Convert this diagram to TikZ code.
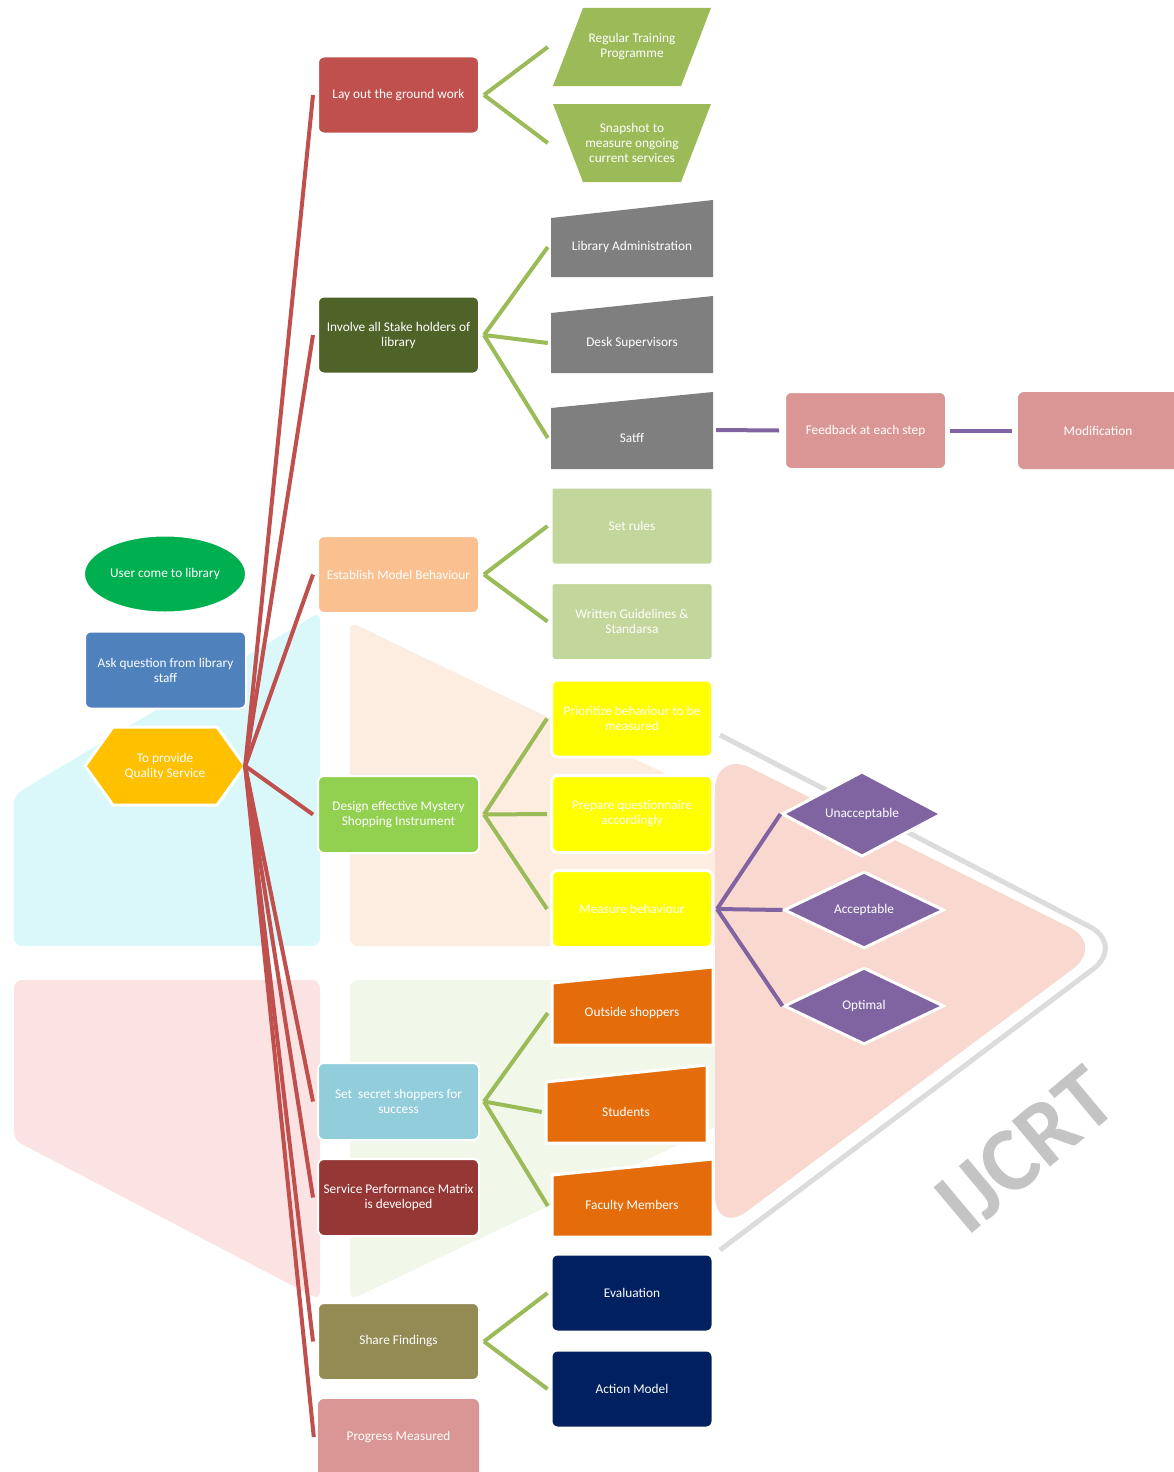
\documentclass[tikz,border=0pt]{standalone}
\usepackage{fontspec}
\setmainfont{Carlito}
\usetikzlibrary{shapes.geometric,calc}
\definecolor{cRed}{HTML}{C0504D}
\definecolor{cInv}{HTML}{4F6228}
\definecolor{cEst}{HTML}{FAC090}
\definecolor{cDes}{HTML}{92D050}
\definecolor{cSet}{HTML}{92CDDC}
\definecolor{cSrv}{HTML}{953735}
\definecolor{cShr}{HTML}{948A54}
\definecolor{cPink}{HTML}{D99694}
\definecolor{cG}{HTML}{9BBB59}
\definecolor{cGray}{HTML}{7F7F7F}
\definecolor{cLG}{HTML}{C3D69B}
\definecolor{cYel}{HTML}{FFFF00}
\definecolor{cPur}{HTML}{8064A2}
\definecolor{cOra}{HTML}{E46C0A}
\definecolor{cNav}{HTML}{002060}
\definecolor{cEll}{HTML}{00B050}
\definecolor{cAsk}{HTML}{4F81BD}
\definecolor{cHex}{HTML}{FFC000}
\definecolor{wCyan}{HTML}{DAF8FA}
\definecolor{wPeach}{HTML}{FCEDE0}
\definecolor{wPink}{HTML}{FBE3E3}
\definecolor{wGreen}{HTML}{F1F8EA}
\definecolor{wTri}{HTML}{F9D8D0}
\definecolor{wGrey}{HTML}{C4C4C4}
\begin{document}
\begin{tikzpicture}[x=1pt,y=-1pt,
  txt/.style={text=white, font=\fontsize{13.3}{15}\selectfont, align=center, inner sep=0pt},
  box/.style={txt, rectangle, rounded corners=6pt, minimum width=161pt, minimum height=77pt, draw=white, line width=2pt},
  lbl/.style={txt, minimum width=162pt, minimum height=77pt},
  gline/.style={draw=cG, line width=4pt},
  pline/.style={draw=cPur, line width=4pt},
  rline/.style={draw=cRed, line width=4pt},
  dia/.style={txt, diamond, fill=cPur, draw=white, line width=3pt, minimum width=160pt, minimum height=77pt}]
\clip (0,0) rectangle (1174,1472);
\fill[white] (0,0) rectangle (1174,1472);

% faint watermark
\fill[wCyan, rounded corners=8pt] (14,795) -- (320,612) -- (320,946) -- (14,946) -- cycle;
\fill[wPeach, rounded corners=8pt] (350,622) -- (720,800) -- (720,946) -- (350,946) -- cycle;
\fill[wPink, rounded corners=8pt] (14,980) -- (320,980) -- (320,1300) -- (14,1140) -- cycle;
\fill[wGreen, rounded corners=8pt] (350,980) -- (720,980) -- (720,1125) -- (350,1300) -- cycle;
\draw[wGrey!60, line width=5pt, rounded corners=40pt] (720,735) -- (1125,945) -- (720,1250);
\fill[wTri, rounded corners=40pt] (715,750) -- (1105,945) -- (715,1235) -- cycle;
\node[text=wGrey, font=\bfseries\fontsize{92}{92}\selectfont\rmfamily, rotate=40, inner sep=0pt] (wm) at (1025,1150) {IJCRT};

% left column
\node[txt, ellipse, fill=cEll, draw=white, line width=2pt, minimum width=162pt, minimum height=77pt] (user) at (165,574) {User come to library};
\node[box, fill=cAsk] (ask) at (165.5,670) {Ask question from library\\staff};
\filldraw[fill=cHex, draw=white, line width=3pt] (85,766) -- (113,727) -- (217,727) -- (245,766) -- (217,805) -- (113,805) -- cycle;
\node[txt, minimum width=160pt, minimum height=78pt] (hex) at (165,766) {To provide\\Quality Service};

% main column
\node[box, fill=cRed] (lay) at (398.5,95) {Lay out the ground work};
\node[box, fill=cInv] (inv) at (398.5,335) {Involve all Stake holders of\\library};
\node[box, fill=cEst] (est) at (398.5,574.5) {Establish Model Behaviour};
\node[box, fill=cDes] (des) at (398.5,814.5) {Design effective Mystery\\Shopping Instrument};
\node[box, fill=cSet] (set) at (398.5,1101.5) {Set\ \ secret shoppers for\\success};
\node[box, fill=cSrv] (srv) at (398.5,1197.5) {Service Performance Matrix\\is developed};
\node[box, fill=cShr] (shr) at (398.5,1341.5) {Share Findings};
\fill[cPink, rounded corners=6pt] (318,1399) rectangle (479,1495);
\node[lbl, minimum width=161pt] (prg) at (398.5,1437) {Progress Measured};

% red connectors
\foreach \n in {lay,inv,est,des,set,srv,shr,prg}
  \draw[rline] (hex.east) -- ($(\n.west)+(-4,0)$);

% layout children
\fill[cG] (583,8) -- (711,8) -- (681,86) -- (553,86) -- cycle;
\node[lbl] (rtp) at (632,47) {Regular Training\\Programme};
\fill[cG] (553,104) -- (711,104) -- (681,182) -- (583,182) -- cycle;
\node[lbl] (snap) at (632,143) {Snapshot to\\measure ongoing\\current services};

% stakeholders
\fill[cGray] (551,218) -- (713,200) -- (713,277) -- (551,277) -- cycle;
\node[lbl] (lib) at (632,247) {Library Administration};
\fill[cGray] (551,313) -- (713,296) -- (713,373) -- (551,373) -- cycle;
\node[lbl] (desk) at (632,343) {Desk Supervisors};
\fill[cGray] (551,408) -- (713,392) -- (713,469) -- (551,469) -- cycle;
\node[lbl] (staff) at (632,438) {Satff};

\node[box, fill=cPink] (fb) at (865.5,430.5) {Feedback at each step};
\fill[cPink, rounded corners=6pt] (1018,392) rectangle (1190,469);
\node[lbl] (mod) at (1098,430.5) {Modification};
\draw[pline] ($(staff.east)+(3,-8)$) -- ($(fb.west)+(-5,0)$);
\draw[pline] ($(fb.east)+(3,0)$) -- ($(mod.west)+(-5,0)$);

% model behaviour
\node[box, fill=cLG, rounded corners=3pt] (rules) at (632,526) {Set rules};
\node[box, fill=cLG, rounded corners=3pt] (writ) at (632,621.5) {Written Guidelines \&\\Standarsa};

% design
\node[box, fill=cYel, line width=3pt] (prio) at (632,718.5) {Prioritize behaviour to be\\measured};
\node[box, fill=cYel, line width=3pt] (prep) at (632,814) {Prepare questionnaire\\accordingly};
\node[box, fill=cYel, line width=3pt] (meas) at (632,909) {Measure behaviour};

\node[dia] (unacc) at (862,814) {Unacceptable};
\node[dia] (acc) at (864,910) {Acceptable};
\node[dia] (opt) at (864,1006) {Optimal};
\foreach \n in {unacc,acc,opt}
  \draw[pline] ($(meas.east)+(3,0)$) -- (\n.west);

% shoppers
\filldraw[fill=cOra, draw=white, line width=3pt] (552,983) -- (713,967) -- (713,1045) -- (552,1045) -- cycle;
\node[lbl] (out) at (632,1013) {Outside shoppers};
\filldraw[fill=cOra, draw=white, line width=3pt] (546,1082) -- (707,1065) -- (707,1143) -- (546,1143) -- cycle;
\node[lbl] (stu) at (626,1112) {Students};
\filldraw[fill=cOra, draw=white, line width=3pt] (552,1175) -- (713,1159) -- (713,1237) -- (552,1237) -- cycle;
\node[lbl] (fac) at (632,1206) {Faculty Members};

% share
\node[box, fill=cNav] (eval) at (632,1293) {Evaluation};
\node[box, fill=cNav] (act) at (632,1389) {Action Model};

% green connectors
\foreach \a/\b in {lay/rtp, lay/snap, inv/lib, inv/desk, inv/staff, est/rules, est/writ, des/prio, des/prep, des/meas, set/out, set/stu, set/fac, shr/eval, shr/act}
  \draw[gline] ($(\a.east)+(4,0)$) -- ($(\b.west)+(-3,0)$);
\end{tikzpicture}
\end{document}
